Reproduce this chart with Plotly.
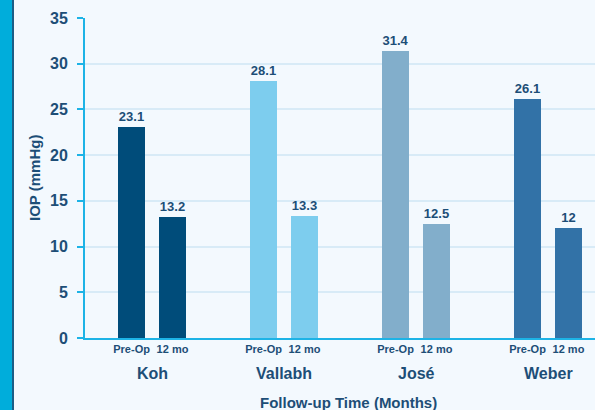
import plotly.graph_objects as go

# Study groups and IOP values (mmHg)
studies = ["Koh", "Vallabh", "José", "Weber"]
pre_op = [23.1, 28.1, 31.4, 26.1]
month_12 = [13.2, 13.3, 12.5, 12.0]
timepoints = ["Pre-Op", "12 mo"]
study_colors = ["#004C7A", "#7DCDEE", "#82AECB", "#3272A7"]
y_ticks = [0, 5, 10, 15, 20, 25, 30, 35]

TEXT = "#1D4E77"
FONT = "Liberation Sans, Arial, sans-serif"
OFFSET = 0.155
BAR_W = 0.21

fig = go.Figure()

tick_vals, tick_text = [], []
for i, (name, pre, post, col) in enumerate(zip(studies, pre_op, month_12, study_colors)):
    xs = [i - OFFSET, i + OFFSET]
    ys = [pre, post]
    fig.add_trace(go.Bar(
        x=xs, y=ys, width=BAR_W,
        marker=dict(color=col, line=dict(width=0)),
        text=[f"{v:g}" for v in ys], textposition="outside",
        textfont=dict(family=FONT, size=13, color=TEXT, weight="bold"),
        cliponaxis=False, showlegend=False, name=name,
    ))
    tick_vals += xs
    tick_text += timepoints
    fig.add_annotation(
        x=i, y=-0.11, xref="x", yref="paper", text=name, showarrow=False,
        font=dict(family=FONT, size=16, color=TEXT, weight="bold"),
        yanchor="middle",
    )

# axis titles
fig.add_annotation(
    x=(348 - 85) / 510, y=-0.2, xref="paper", yref="paper",
    text="Follow-up Time (Months)", showarrow=False,
    font=dict(family=FONT, size=15, color=TEXT, weight="bold"), yanchor="middle",
)
fig.add_annotation(
    x=(34 - 85) / 510, y=0.5, xref="paper", yref="paper",
    text="IOP (mmHg)", showarrow=False, textangle=-90,
    font=dict(family=FONT, size=15, color=TEXT, weight="bold"),
    xanchor="center", yanchor="middle",
)

# left accent band
fig.add_shape(type="rect", xref="paper", yref="paper",
              x0=-85 / 510, x1=-73 / 510, y0=-0.3, y1=1.1,
              fillcolor="#00ADDB", line=dict(width=0), layer="below")
fig.add_shape(type="rect", xref="paper", yref="paper",
              x0=-73 / 510, x1=-71 / 510, y0=-0.3, y1=1.1,
              fillcolor="#1B5E86", line=dict(width=0), layer="below")

fig.update_layout(
    width=595, height=410,
    margin=dict(l=85, r=0, t=18, b=72),
    paper_bgcolor="#F3F9FE", plot_bgcolor="#F3F9FE",
    bargap=0,
    font=dict(family=FONT, color=TEXT),
    xaxis=dict(
        range=[-0.508, 3.356], tickvals=tick_vals, ticktext=tick_text,
        tickfont=dict(family=FONT, size=11, color=TEXT, weight="bold"),
        showgrid=False, zeroline=False, ticks="",
        showline=True, linecolor="#1DB3E6", linewidth=2,
    ),
    yaxis=dict(
        range=[0, 35], tickvals=y_ticks,
        tickfont=dict(family=FONT, size=16, color=TEXT, weight="bold"),
        ticks="outside", ticklen=6, tickwidth=2, tickcolor="#1DB3E6",
        ticklabelstandoff=6,
        showline=True, linecolor="#1DB3E6", linewidth=2,
        showgrid=True, gridcolor="#D8EBF7", gridwidth=2,
        zeroline=False,
    ),
)

fig.write_html("out.html")
